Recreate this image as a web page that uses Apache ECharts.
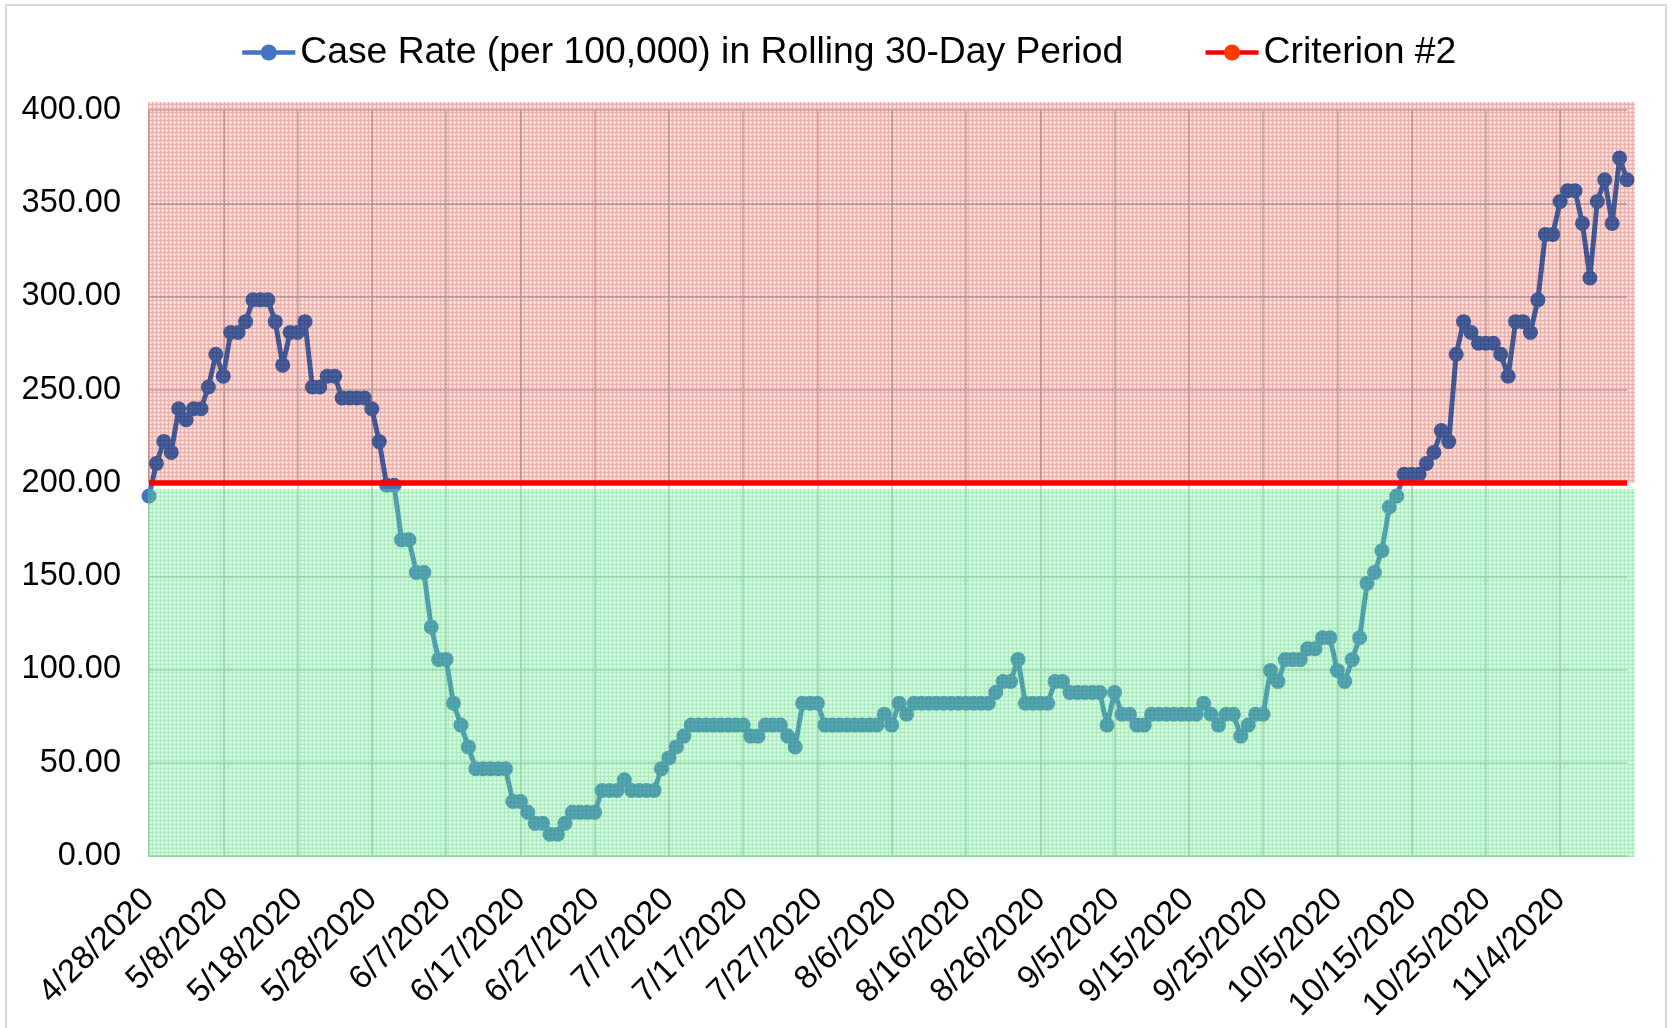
<!DOCTYPE html>
<html>
<head>
<meta charset="utf-8">
<script src="https://cdn.jsdelivr.net/npm/echarts@6/dist/echarts.min.js"></script>
<style>
  html, body { margin: 0; padding: 0; background: #fff; }
  #chart { width: 1672px; height: 1028px; }
</style>
</head>
<body>
<div id="chart"></div>
<script>
// Daily case rate, 4/28/2020 .. 11/13/2020
const caseRate = [
  193.0, 210.5, 222.2, 216.4, 239.8, 233.9, 239.8, 239.8, 251.5, 269.0,
  257.3, 280.7, 280.7, 286.5, 298.2, 298.2, 298.2, 286.5, 263.2, 280.7,
  280.7, 286.5, 251.5, 251.5, 257.3, 257.3, 245.6, 245.6, 245.6, 245.6,
  239.8, 222.2, 198.8, 198.8, 169.6, 169.6, 152.0, 152.0, 122.8, 105.3,
  105.3, 81.9, 70.2, 58.5, 46.8, 46.8, 46.8, 46.8, 46.8, 29.2,
  29.2, 23.4, 17.5, 17.5, 11.7, 11.7, 17.5, 23.4, 23.4, 23.4,
  23.4, 35.1, 35.1, 35.1, 40.9, 35.1, 35.1, 35.1, 35.1, 46.8,
  52.6, 58.5, 64.3, 70.2, 70.2, 70.2, 70.2, 70.2, 70.2, 70.2,
  70.2, 64.3, 64.3, 70.2, 70.2, 70.2, 64.3, 58.5, 81.9, 81.9,
  81.9, 70.2, 70.2, 70.2, 70.2, 70.2, 70.2, 70.2, 70.2, 76.0,
  70.2, 81.9, 76.0, 81.9, 81.9, 81.9, 81.9, 81.9, 81.9, 81.9,
  81.9, 81.9, 81.9, 81.9, 87.7, 93.6, 93.6, 105.3, 81.9, 81.9,
  81.9, 81.9, 93.6, 93.6, 87.7, 87.7, 87.7, 87.7, 87.7, 70.2,
  87.7, 76.0, 76.0, 70.2, 70.2, 76.0, 76.0, 76.0, 76.0, 76.0,
  76.0, 76.0, 81.9, 76.0, 70.2, 76.0, 76.0, 64.3, 70.2, 76.0,
  76.0, 99.4, 93.6, 105.3, 105.3, 105.3, 111.1, 111.1, 117.0, 117.0,
  99.4, 93.6, 105.3, 117.0, 146.2, 152.0, 163.7, 187.1, 193.0, 204.7,
  204.7, 204.7, 210.5, 216.4, 228.1, 222.2, 269.0, 286.5, 280.7, 274.9,
  274.9, 274.9, 269.0, 257.3, 286.5, 286.5, 280.7, 298.2, 333.3, 333.3,
  350.9, 356.7, 356.7, 339.2, 309.9, 350.9, 362.6, 339.2, 374.3, 362.6
];
const criterion = 200;
const seriesNames = ['Case Rate (per 100,000) in Rolling 30-Day Period', 'Criterion #2'];

// one category per day starting 4/28/2020
const dates = [];
for (let i = 0; i < caseRate.length; i++) {
  const d = new Date(2020, 3, 28 + i);
  dates.push((d.getMonth() + 1) + '/' + d.getDate() + '/' + d.getFullYear());
}

const font = "'Liberation Sans', Arial, sans-serif";

// small dotted grid texture like the excel pattern fill
function makePattern(base, line, dot) {
  const c = document.createElement('canvas');
  c.width = 4;
  c.height = 4;
  const ctx = c.getContext('2d');
  ctx.fillStyle = base;
  ctx.fillRect(1, 1, 3, 3);
  ctx.fillStyle = line;
  ctx.fillRect(0, 0, 4, 1);
  ctx.fillRect(0, 1, 1, 3);
  ctx.clearRect(2, 2, 1, 1);
  if (dot) {
    ctx.fillStyle = dot;
    ctx.fillRect(2, 2, 1, 1);
  }
  return { image: c, repeat: 'repeat' };
}
// pink is multiplied over the plot, green is a translucent wash
const pinkFill = makePattern('rgb(250,208,204)', 'rgb(238,176,170)', '#fff');
const greenFill = makePattern('rgba(105,240,140,0.38)', 'rgba(90,220,130,0.5)');

const chart = echarts.init(document.getElementById('chart'));

const option = {
  animation: false,
  backgroundColor: '#fff',
  textStyle: { fontFamily: font },
  grid: { left: 149, right: 45, top: 110, bottom: 172, outerBoundsMode: 'none' },
  legend: {
    left: 235,
    top: 29,
    itemWidth: 53,
    itemHeight: 20,
    itemGap: 80,
    lineStyle: { width: 4.5 },
    textStyle: { fontSize: 37.3, color: '#000', fontFamily: font },
    data: seriesNames
  },
  xAxis: {
    type: 'category',
    data: dates,
    boundaryGap: false,
    axisLine: { show: true, lineStyle: { color: '#C8C8C8', width: 1.5 } },
    axisTick: { show: false },
    axisLabel: {
      interval: 9,
      rotate: 45,
      margin: 38,
      fontSize: 33,
      color: '#000',
      fontFamily: font
    },
    splitLine: { show: true, interval: 9, lineStyle: { color: '#C4C4C4', width: 1.5 } }
  },
  yAxis: {
    type: 'value',
    min: 0,
    max: 400,
    interval: 50,
    axisLine: { show: false },
    axisTick: { show: false },
    axisLabel: {
      margin: 28,
      fontSize: 32.5,
      color: '#000',
      fontFamily: font,
      formatter: v => v.toFixed(2)
    },
    splitLine: { show: true, lineStyle: { color: '#C4C4C4', width: 1.5 } }
  },
  series: [
    {
      name: seriesNames[0],
      type: 'line',
      data: caseRate,
      z: 2,
      symbol: 'circle',
      symbolSize: 15,
      showAllSymbol: true,
      itemStyle: { color: '#4472C4' },
      lineStyle: { color: '#4472C4', width: 5 }
    },
    {
      name: seriesNames[1],
      type: 'line',
      data: [[dates[0], criterion], [dates[dates.length - 1], criterion]],
      z: 10,
      symbol: 'circle',
      symbolSize: 9,
      showSymbol: false,
      itemStyle: { color: '#FF3C00' },
      lineStyle: { color: '#FF0000', width: 5.5 }
    }
  ]
};
chart.setOption(option);

// pattern overlay over the plot (drawn above the case line, below the red criterion)
const topLeft = chart.convertToPixel({ gridIndex: 0 }, [0, 400]);
const mid = chart.convertToPixel({ gridIndex: 0 }, [0, criterion]);
const bottomRight = chart.convertToPixel({ gridIndex: 0 }, [dates.length - 1, 0]);
const x0 = topLeft[0] - 1;
const x1 = bottomRight[0] + 8;
const y0 = topLeft[1] - 8;

chart.setOption({
  graphic: [
    {
      type: 'rect', silent: true, z: 0,
      shape: { x: 6, y: 5, width: 1660, height: 1040 },
      style: { fill: 'none', stroke: '#D9D9D9', lineWidth: 2 }
    },
    {
      type: 'rect', silent: true, z: 5,
      shape: { x: x0, y: y0, width: x1 - x0, height: mid[1] - y0 },
      style: { fill: pinkFill, blend: 'multiply' }
    },
    {
      type: 'rect', silent: true, z: 5,
      shape: { x: x0, y: mid[1] + 6, width: x1 - x0, height: bottomRight[1] - mid[1] - 5 },
      style: { fill: greenFill }
    }
  ]
});
</script>
</body>
</html>
